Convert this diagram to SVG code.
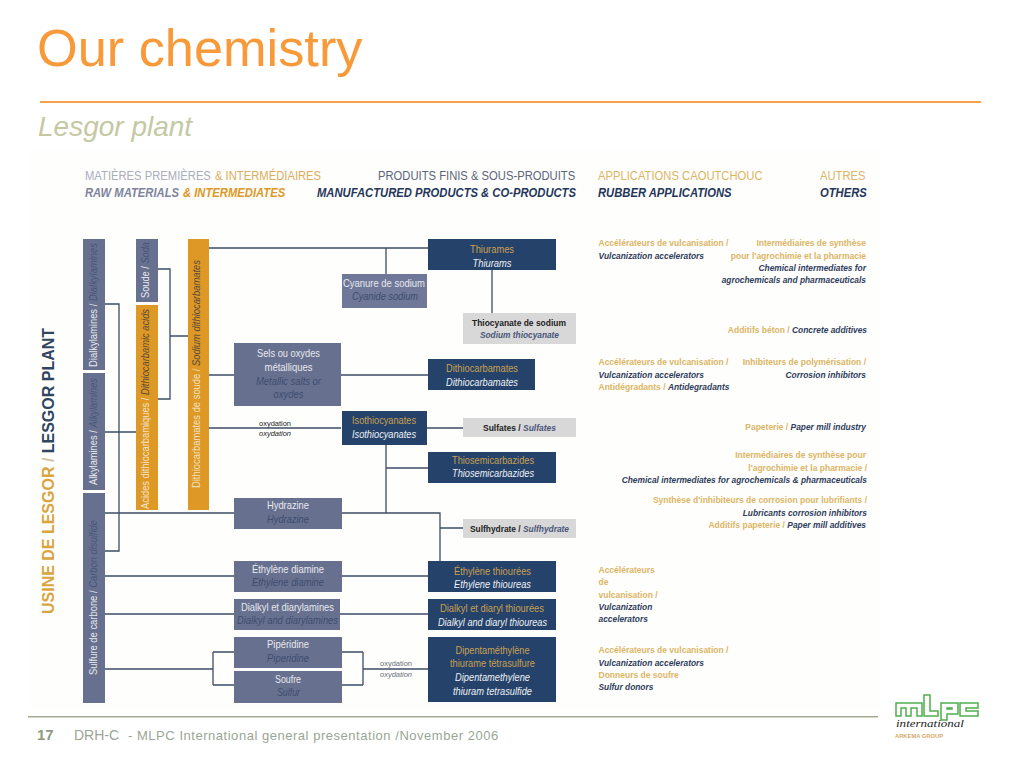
<svg xmlns="http://www.w3.org/2000/svg" width="1024" height="768" viewBox="0 0 1024 768">
<style>
text{font-family:"Liberation Sans",Arial,sans-serif}
.bg{fill:#fefefd}
.n{fill:#67718f}
.o{fill:#dd9826}
.d{fill:#24426a}
.g{fill:#d8d8d8}
.w{fill:#e8e8ee;font-size:10.5px;text-anchor:middle}
.wi{fill:#3e4c70;font-size:10.5px;font-style:italic;text-anchor:middle}
.y{fill:#c9a050;font-size:10.5px;text-anchor:middle}
.wd{fill:#eef0f4;font-size:10.5px;font-style:italic;text-anchor:middle}
.b{fill:#222;font-size:9px;font-weight:bold;text-anchor:middle}
.bi{fill:#4a5578;font-style:italic}
.ap{fill:#dcb565;font-size:8.5px;font-weight:bold}
.ad{fill:#2f3d5c;font-size:8.4px;font-weight:bold;font-style:italic}
.r{text-anchor:end}
.ox{fill:#222;font-size:8px;text-anchor:middle}
.ox2{fill:#6a6f78;font-size:8px;text-anchor:middle}
.h{font-size:13px}
.hb{font-size:13px;font-weight:bold;font-style:italic}
.v{font-size:11px;fill:#e8e8ee}
.vo{font-size:11px;fill:#f3e3c4}
.vi{font-style:italic;fill:#4a5578}
.voi{font-style:italic;fill:#5b4a3a}
#connectors path{fill:none;stroke:#3d4c66;stroke-width:1.3}
</style>
<rect class="bg" x="30" y="150" width="850" height="560"/>
<text x="37" y="66" font-size="52.300" fill="#f99a3a">Our chemistry</text>
<rect x="40" y="101" width="941" height="2" fill="#f9a24e"/>
<text x="38" y="136" font-size="28" font-style="italic" fill="#c4c9a4">Lesgor plant</text>

<g id="headers">
<text class="h" transform="translate(85 180) scale(.865 1)" fill="#a9adbc">MATIÈRES PREMIÈRES</text>
<text class="h" transform="translate(215 180) scale(.865 1)" fill="#d9ae5c">&amp; INTERMÉDIAIRES</text>
<text class="hb" transform="translate(85 196.500) scale(.865 1)" fill="#7d849c">RAW MATERIALS</text>
<text class="hb" transform="translate(183 196.500) scale(.865 1)" fill="#dd9826">&amp; INTERMEDIATES</text>
<text class="h" transform="translate(378 180) scale(.865 1)" fill="#5c6478">PRODUITS FINIS &amp; SOUS-PRODUITS</text>
<text class="hb" transform="translate(317 196.500) scale(.865 1)" fill="#24365a">MANUFACTURED PRODUCTS &amp; CO-PRODUCTS</text>
<text class="h" transform="translate(598 180) scale(.865 1)" fill="#dcb565">APPLICATIONS CAOUTCHOUC</text>
<text class="hb" transform="translate(598 196.500) scale(.865 1)" fill="#24365a">RUBBER APPLICATIONS</text>
<text class="h" transform="translate(820 180) scale(.865 1)" fill="#dcb565">AUTRES</text>
<text class="hb" transform="translate(820 196.500) scale(.865 1)" fill="#24365a">OTHERS</text>
<text transform="translate(54 614) rotate(-90)" font-size="17" font-weight="bold" fill="#d9a53f" textLength="286" lengthAdjust="spacingAndGlyphs">USINE DE LESGOR <tspan fill="#d0c09a">/</tspan> <tspan fill="#2f4560">LESGOR PLANT</tspan></text>
</g>

<g id="connectors">
<path d="M105 304H119V551H105M105 432H136M158 269H170V399H158M170 336H188"/>
<path d="M209 248H428M386 248V274M492 270V313M209 375H234M341 375H428M209 428H341M427 428H463"/>
<path d="M386 445V513M386 468H428M105 513H234M342 513H440V561M440 528H463"/>
<path d="M105 576H234M342 576H428M105 614H234M340 614H428M105 669H213M213 652V685M213 652H234M213 685H234M342 652H363M342 685H363M363 652V685M363 669H428"/>
</g>

<g id="dialkylamines"><rect class="n" x="83" y="239" width="22" height="131"/><text class="v" transform="translate(97 367) rotate(-90)" textLength="124" lengthAdjust="spacingAndGlyphs">Dialkylamines / <tspan class="vi">Dialkylamines</tspan></text></g>
<g id="alkylamines"><rect class="n" x="83" y="373" width="22" height="117"/><text class="v" transform="translate(97 485) rotate(-90)" textLength="107" lengthAdjust="spacingAndGlyphs">Alkylamines / <tspan class="vi">Alkylamines</tspan></text></g>
<g id="sulfure"><rect class="n" x="83" y="493" width="22" height="210"/><text class="v" transform="translate(97 675) rotate(-90)" textLength="155" lengthAdjust="spacingAndGlyphs">Sulfure de carbone / <tspan class="vi">Carbon disulfide</tspan></text></g>
<g id="soude"><rect class="n" x="136" y="239" width="22" height="63"/><text class="v" transform="translate(149 298) rotate(-90)" textLength="56" lengthAdjust="spacingAndGlyphs">Soude / <tspan class="vi">Soda</tspan></text></g>
<g id="acides"><rect class="o" x="136" y="305" width="22" height="205"/><text class="vo" transform="translate(149 509) rotate(-90)" textLength="200" lengthAdjust="spacingAndGlyphs">Acides dithiocarbamiques / <tspan class="voi">Dithiocarbamic acids</tspan></text></g>
<g id="soude-dithio"><rect class="o" x="188" y="239" width="21" height="271"/><text class="vo" transform="translate(200 488) rotate(-90)" textLength="228" lengthAdjust="spacingAndGlyphs">Dithiocarbamates de soude / <tspan class="voi">Sodium dithiocarbamates</tspan></text></g>

<g id="thiurames"><rect class="d" x="428" y="239" width="128" height="31"/><text class="y" x="492" y="253" textLength="44" lengthAdjust="spacingAndGlyphs">Thiurames</text><text class="wd" x="492" y="267" textLength="39" lengthAdjust="spacingAndGlyphs">Thiurams</text></g>
<g id="cyanure"><rect x="342" y="274" width="85" height="34" fill="#6f7898"/><text class="w" x="384" y="287" textLength="82" lengthAdjust="spacingAndGlyphs">Cyanure de sodium</text><text class="wi" x="385" y="300" textLength="66" lengthAdjust="spacingAndGlyphs">Cyanide sodium</text></g>
<g id="thiocyanate"><rect class="g" x="463" y="313" width="113" height="31"/><text class="b" x="519" y="326" textLength="94" lengthAdjust="spacingAndGlyphs">Thiocyanate de sodium</text><text class="b bi" x="519.500" y="338" textLength="79" lengthAdjust="spacingAndGlyphs">Sodium thiocyanate</text></g>
<g id="sels"><rect class="n" x="234" y="343" width="107" height="63"/><text class="w" x="288.500" y="357" textLength="63" lengthAdjust="spacingAndGlyphs">Sels ou oxydes</text><text class="w" x="288.500" y="371" textLength="48" lengthAdjust="spacingAndGlyphs">métalliques</text><text class="wi" x="288.500" y="385" textLength="65" lengthAdjust="spacingAndGlyphs">Metallic salts or</text><text class="wi" x="288.500" y="398" textLength="30" lengthAdjust="spacingAndGlyphs">oxydes</text></g>
<g id="dithiocarbamates"><rect class="d" x="428" y="359" width="107" height="31"/><text class="y" x="482" y="372" textLength="72" lengthAdjust="spacingAndGlyphs">Dithiocarbamates</text><text class="wd" x="482" y="386" textLength="72" lengthAdjust="spacingAndGlyphs">Dithiocarbamates</text></g>
<g id="isothiocyanates"><rect class="d" x="342" y="411" width="85" height="34"/><text class="y" x="384" y="424" textLength="64" lengthAdjust="spacingAndGlyphs">Isothiocyanates</text><text class="wd" x="384" y="438" textLength="64" lengthAdjust="spacingAndGlyphs">Isothiocyanates</text></g>
<g id="oxy1"><text class="ox" x="275" y="425.500" textLength="32" lengthAdjust="spacingAndGlyphs">oxydation</text><text class="ox" x="275" y="436" font-style="italic" textLength="32" lengthAdjust="spacingAndGlyphs">oxydation</text></g>
<g id="sulfates"><rect class="g" x="463" y="418" width="113" height="19"/><text class="b" x="519.500" y="431" textLength="73" lengthAdjust="spacingAndGlyphs">Sulfates / <tspan class="bi">Sulfates</tspan></text></g>
<g id="thiosemi"><rect class="d" x="428" y="452" width="128" height="31"/><text class="y" x="493" y="464" textLength="82" lengthAdjust="spacingAndGlyphs">Thiosemicarbazides</text><text class="wd" x="493" y="477" textLength="82" lengthAdjust="spacingAndGlyphs">Thiosemicarbazides</text></g>
<g id="hydrazine"><rect class="n" x="234" y="498" width="108" height="31"/><text class="w" x="288" y="509" textLength="42" lengthAdjust="spacingAndGlyphs">Hydrazine</text><text class="wi" x="288" y="523" textLength="42" lengthAdjust="spacingAndGlyphs">Hydrazine</text></g>
<g id="sulfhydrate"><rect class="g" x="463" y="519" width="113" height="19"/><text class="b" x="519.500" y="532" textLength="99" lengthAdjust="spacingAndGlyphs">Sulfhydrate / <tspan class="bi">Sulfhydrate</tspan></text></g>
<g id="ethylene-diamine"><rect class="n" x="234" y="561" width="108" height="31"/><text class="w" x="288" y="573" textLength="72" lengthAdjust="spacingAndGlyphs">Éthylène diamine</text><text class="wi" x="288" y="586" textLength="72" lengthAdjust="spacingAndGlyphs">Ethylene diamine</text></g>
<g id="ethylene-thio"><rect class="d" x="428" y="561" width="128" height="31"/><text class="y" x="492.500" y="575" textLength="77" lengthAdjust="spacingAndGlyphs">Éthylène thiourées</text><text class="wd" x="492.500" y="588" textLength="77" lengthAdjust="spacingAndGlyphs">Ethylene thioureas</text></g>
<g id="dialkyl-diaryl"><rect class="n" x="234" y="599" width="106" height="31"/><text class="w" x="287.500" y="611" textLength="93" lengthAdjust="spacingAndGlyphs">Dialkyl et diarylamines</text><text class="wi" x="287.500" y="624" textLength="101" lengthAdjust="spacingAndGlyphs">Dialkyl and diarylamines</text></g>
<g id="dialkyl-thio"><rect class="d" x="428" y="599" width="128" height="31"/><text class="y" x="492" y="612" textLength="104" lengthAdjust="spacingAndGlyphs">Dialkyl et diaryl thiourées</text><text class="wd" x="492.500" y="626" textLength="109" lengthAdjust="spacingAndGlyphs">Dialkyl and diaryl thioureas</text></g>
<g id="piperidine"><rect class="n" x="234" y="637" width="108" height="31"/><text class="w" x="288" y="648" textLength="42" lengthAdjust="spacingAndGlyphs">Pipéridine</text><text class="wi" x="288" y="662" textLength="42" lengthAdjust="spacingAndGlyphs">Piperidine</text></g>
<g id="soufre"><rect class="n" x="234" y="671" width="108" height="32"/><text class="w" x="288" y="683" textLength="26" lengthAdjust="spacingAndGlyphs">Soufre</text><text class="wi" x="288.500" y="696" textLength="23" lengthAdjust="spacingAndGlyphs">Sulfur</text></g>
<g id="oxy2"><text class="ox2" x="396" y="666" textLength="32" lengthAdjust="spacingAndGlyphs">oxydation</text><text class="ox2" x="396" y="677" font-style="italic" textLength="32" lengthAdjust="spacingAndGlyphs">oxydation</text></g>
<g id="dipenta"><rect class="d" x="428" y="637" width="128" height="65"/><text class="y" x="492.500" y="654" textLength="74" lengthAdjust="spacingAndGlyphs">Dipentaméthylène</text><text class="y" x="492.500" y="667" textLength="85" lengthAdjust="spacingAndGlyphs">thiurame tétrasulfure</text><text class="wd" x="492.500" y="681" textLength="75" lengthAdjust="spacingAndGlyphs">Dipentamethylene</text><text class="wd" x="492.500" y="695" textLength="79" lengthAdjust="spacingAndGlyphs">thiuram tetrasulfide</text></g>

<g id="applications">
<text class="ap" x="598.500" y="246">Accélérateurs de vulcanisation /</text>
<text class="ad" x="598.500" y="259">Vulcanization accelerators</text>
<text class="ap r" x="866" y="246">Intermédiaires de synthèse</text>
<text class="ap r" x="866" y="259">pour l'agrochimie et la pharmacie</text>
<text class="ad r" x="866" y="271">Chemical intermediates for</text>
<text class="ad r" x="866" y="283">agrochemicals and pharmaceuticals</text>
<text class="ap r" x="867" y="333">Additifs béton / <tspan class="ad">Concrete additives</tspan></text>
<text class="ap" x="598.500" y="365">Accélérateurs de vulcanisation /</text>
<text class="ad" x="598.500" y="378">Vulcanization accelerators</text>
<text class="ap" x="598.500" y="390">Antidégradants / <tspan class="ad">Antidegradants</tspan></text>
<text class="ap r" x="866" y="365">Inhibiteurs de polymérisation /</text>
<text class="ad r" x="866" y="378">Corrosion inhibitors</text>
<text class="ap r" x="866" y="430">Papeterie / <tspan class="ad">Paper mill industry</tspan></text>
<text class="ap r" x="866" y="458">Intermédiaires de synthèse pour</text>
<text class="ap r" x="867" y="471">l'agrochimie et la pharmacie /</text>
<text class="ad r" x="867" y="483">Chemical intermediates for agrochemicals &amp; pharmaceuticals</text>
<text class="ap r" x="867" y="503">Synthèse d'inhibiteurs de corrosion pour lubrifiants /</text>
<text class="ad r" x="867" y="516">Lubricants corrosion inhibitors</text>
<text class="ap r" x="866" y="528">Additifs papeterie / <tspan class="ad">Paper mill additives</tspan></text>
<text class="ap" x="598.500" y="573">Accélérateurs</text>
<text class="ap" x="598.500" y="585">de</text>
<text class="ap" x="598.500" y="598">vulcanisation /</text>
<text class="ad" x="598.500" y="610">Vulcanization</text>
<text class="ad" x="598.500" y="622">accelerators</text>
<text class="ap" x="598.500" y="653">Accélérateurs de vulcanisation /</text>
<text class="ad" x="598.500" y="666">Vulcanization accelerators</text>
<text class="ap" x="598.500" y="678">Donneurs de soufre</text>
<text class="ad" x="598.500" y="690">Sulfur donors</text>
</g>

<rect x="28" y="716" width="850" height="1.500" fill="#a2ab90"/>
<text x="37" y="740" font-size="15" font-weight="bold" fill="#8b9a82">17</text>
<text x="74" y="740" font-size="14" fill="#9aa595">DRH-C</text>
<text x="128" y="740" font-size="13" letter-spacing=".53" fill="#9aa595">- MLPC International general presentation /November 2006</text>

<g id="logo" fill="none" stroke="#4fae4f" stroke-width="1.500">
<path d="M896 716V703H922V716H917V708H911V716H906V708H901V716Z"/>
<path d="M924 695H930V711H938V716H924Z"/>
<path d="M941 703H958V714H947V720H941ZM947 708V709H952V708Z"/>
<path d="M978 703H960V716H978V711H966V708H978Z"/>
</g>
<text x="896" y="727" font-size="11" font-style="italic" style="font-family:'Liberation Serif',serif" fill="#222" textLength="68" lengthAdjust="spacingAndGlyphs">international</text>
<text x="895" y="738" font-size="5.500" font-weight="bold" fill="#d8a96c" textLength="48" lengthAdjust="spacingAndGlyphs">ARKEMA GROUP</text>
</svg>
